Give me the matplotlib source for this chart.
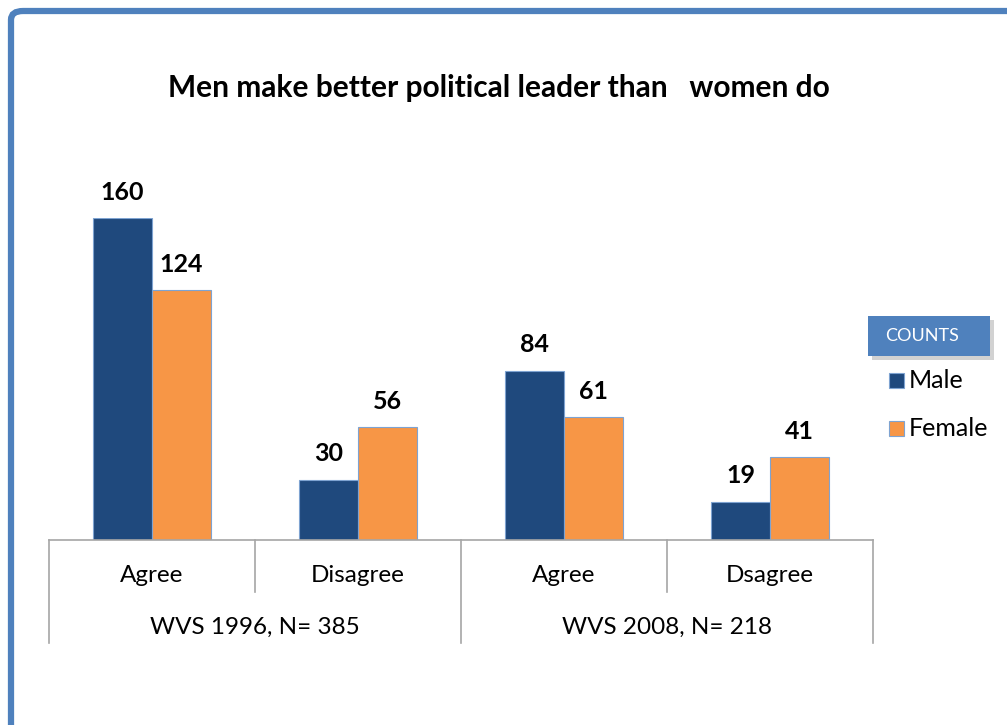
import matplotlib
matplotlib.use("Agg")
import matplotlib.pyplot as plt
from matplotlib.patches import FancyBboxPatch, Rectangle
from matplotlib.transforms import blended_transform_factory

# ─── Data ───────────────────────────────────────────────
categories = ["Agree", "Disagree", "Agree", "Dsagree"]
groups = ["WVS 1996, N= 385", "WVS 2008, N= 218"]
male = [160, 30, 84, 19]
female = [124, 56, 61, 41]
series_names = ["Male", "Female"]

male_color = "#1F497D"
female_color = "#F79646"
edge_color = "#7EA3D1"
frame_color = "#4F81BD"
grid_color = "#A6A6A6"

W, H = 1007, 725
plt.rcParams["font.family"] = ["Lato", "DejaVu Sans"]

fig = plt.figure(figsize=(W / 100, H / 100), dpi=100)


def fx(px):
    return px / W


def fy(py):
    return 1 - py / H


# outer rounded frame, runs off the right and bottom edges
frame = FancyBboxPatch((fx(11), fy(760)), fx(1040) - fx(11), fy(11) - fy(760),
                       boxstyle="round,pad=0,rounding_size=0.012",
                       transform=fig.transFigure, facecolor="none",
                       edgecolor=frame_color, linewidth=4.5, zorder=-1)
fig.patches.append(frame)

ax = fig.add_axes([fx(49), fy(540), fx(873) - fx(49), (540 - 218) / H])
ax.set_xlim(-0.5, len(categories) - 0.5)
ax.set_ylim(0, 160)
ax.axis("off")

x = list(range(len(categories)))
w = 59 / 206
ax.bar([i - w / 2 for i in x], male, width=w, color=male_color,
       edgecolor=edge_color, linewidth=0.8, label=series_names[0])
ax.bar([i + w / 2 for i in x], female, width=w, color=female_color,
       edgecolor=edge_color, linewidth=0.8, label=series_names[1])

for i in x:
    ax.annotate(f"{male[i]}", (i - w / 2, male[i]), xytext=(0, 26),
                textcoords="offset pixels", ha="center", va="center",
                fontsize=18, fontweight="bold")
    ax.annotate(f"{female[i]}", (i + w / 2, female[i]), xytext=(0, 26),
                textcoords="offset pixels", ha="center", va="center",
                fontsize=18, fontweight="bold")

# category / group table below the baseline
tr = blended_transform_factory(ax.transData, fig.transFigure)
line_kw = dict(color=grid_color, linewidth=1.2, transform=tr, clip_on=False)
ax.plot([-0.5, 3.5], [fy(540), fy(540)], **line_kw)
for b in [-0.5, 1.5, 3.5]:
    ax.plot([b, b], [fy(540), fy(643)], **line_kw)
for b in [0.5, 2.5]:
    ax.plot([b, b], [fy(540), fy(592)], **line_kw)

for i, c in enumerate(categories):
    ax.text(i, fy(576), c, transform=tr, ha="center", va="center", fontsize=17.5)
for j, g in enumerate(groups):
    ax.text(2 * j + 0.5, fy(627), g, transform=tr, ha="center", va="center",
            fontsize=17.5)

fig.text(fx(499), fy(88), "Men make better political leader than   women do",
         ha="center", va="center", fontsize=21.5, fontweight="bold")

# legend with a shaded header box
shadow = Rectangle((fx(872), fy(360)), fx(122), fy(316) - fy(356),
                   transform=fig.transFigure, facecolor="#BFBFBF",
                   edgecolor="none", alpha=0.7)
header = Rectangle((fx(868), fy(356)), fx(122), fy(316) - fy(356),
                   transform=fig.transFigure, facecolor=frame_color,
                   edgecolor="none")
fig.patches.extend([shadow, header])
fig.text(fx(922), fy(336), "COUNTS", color="white", ha="center", va="center",
         fontsize=13)

for k, (name, col) in enumerate(zip(series_names, [male_color, female_color])):
    cy = 380 + k * 48
    fig.patches.append(Rectangle((fx(889), fy(cy + 8)), fx(15), fy(cy - 7) - fy(cy + 8),
                                 transform=fig.transFigure, facecolor=col,
                                 edgecolor=edge_color, linewidth=0.8))
    fig.text(fx(909), fy(cy), name, ha="left", va="center", fontsize=18)

fig.savefig("out.png", dpi=100)
